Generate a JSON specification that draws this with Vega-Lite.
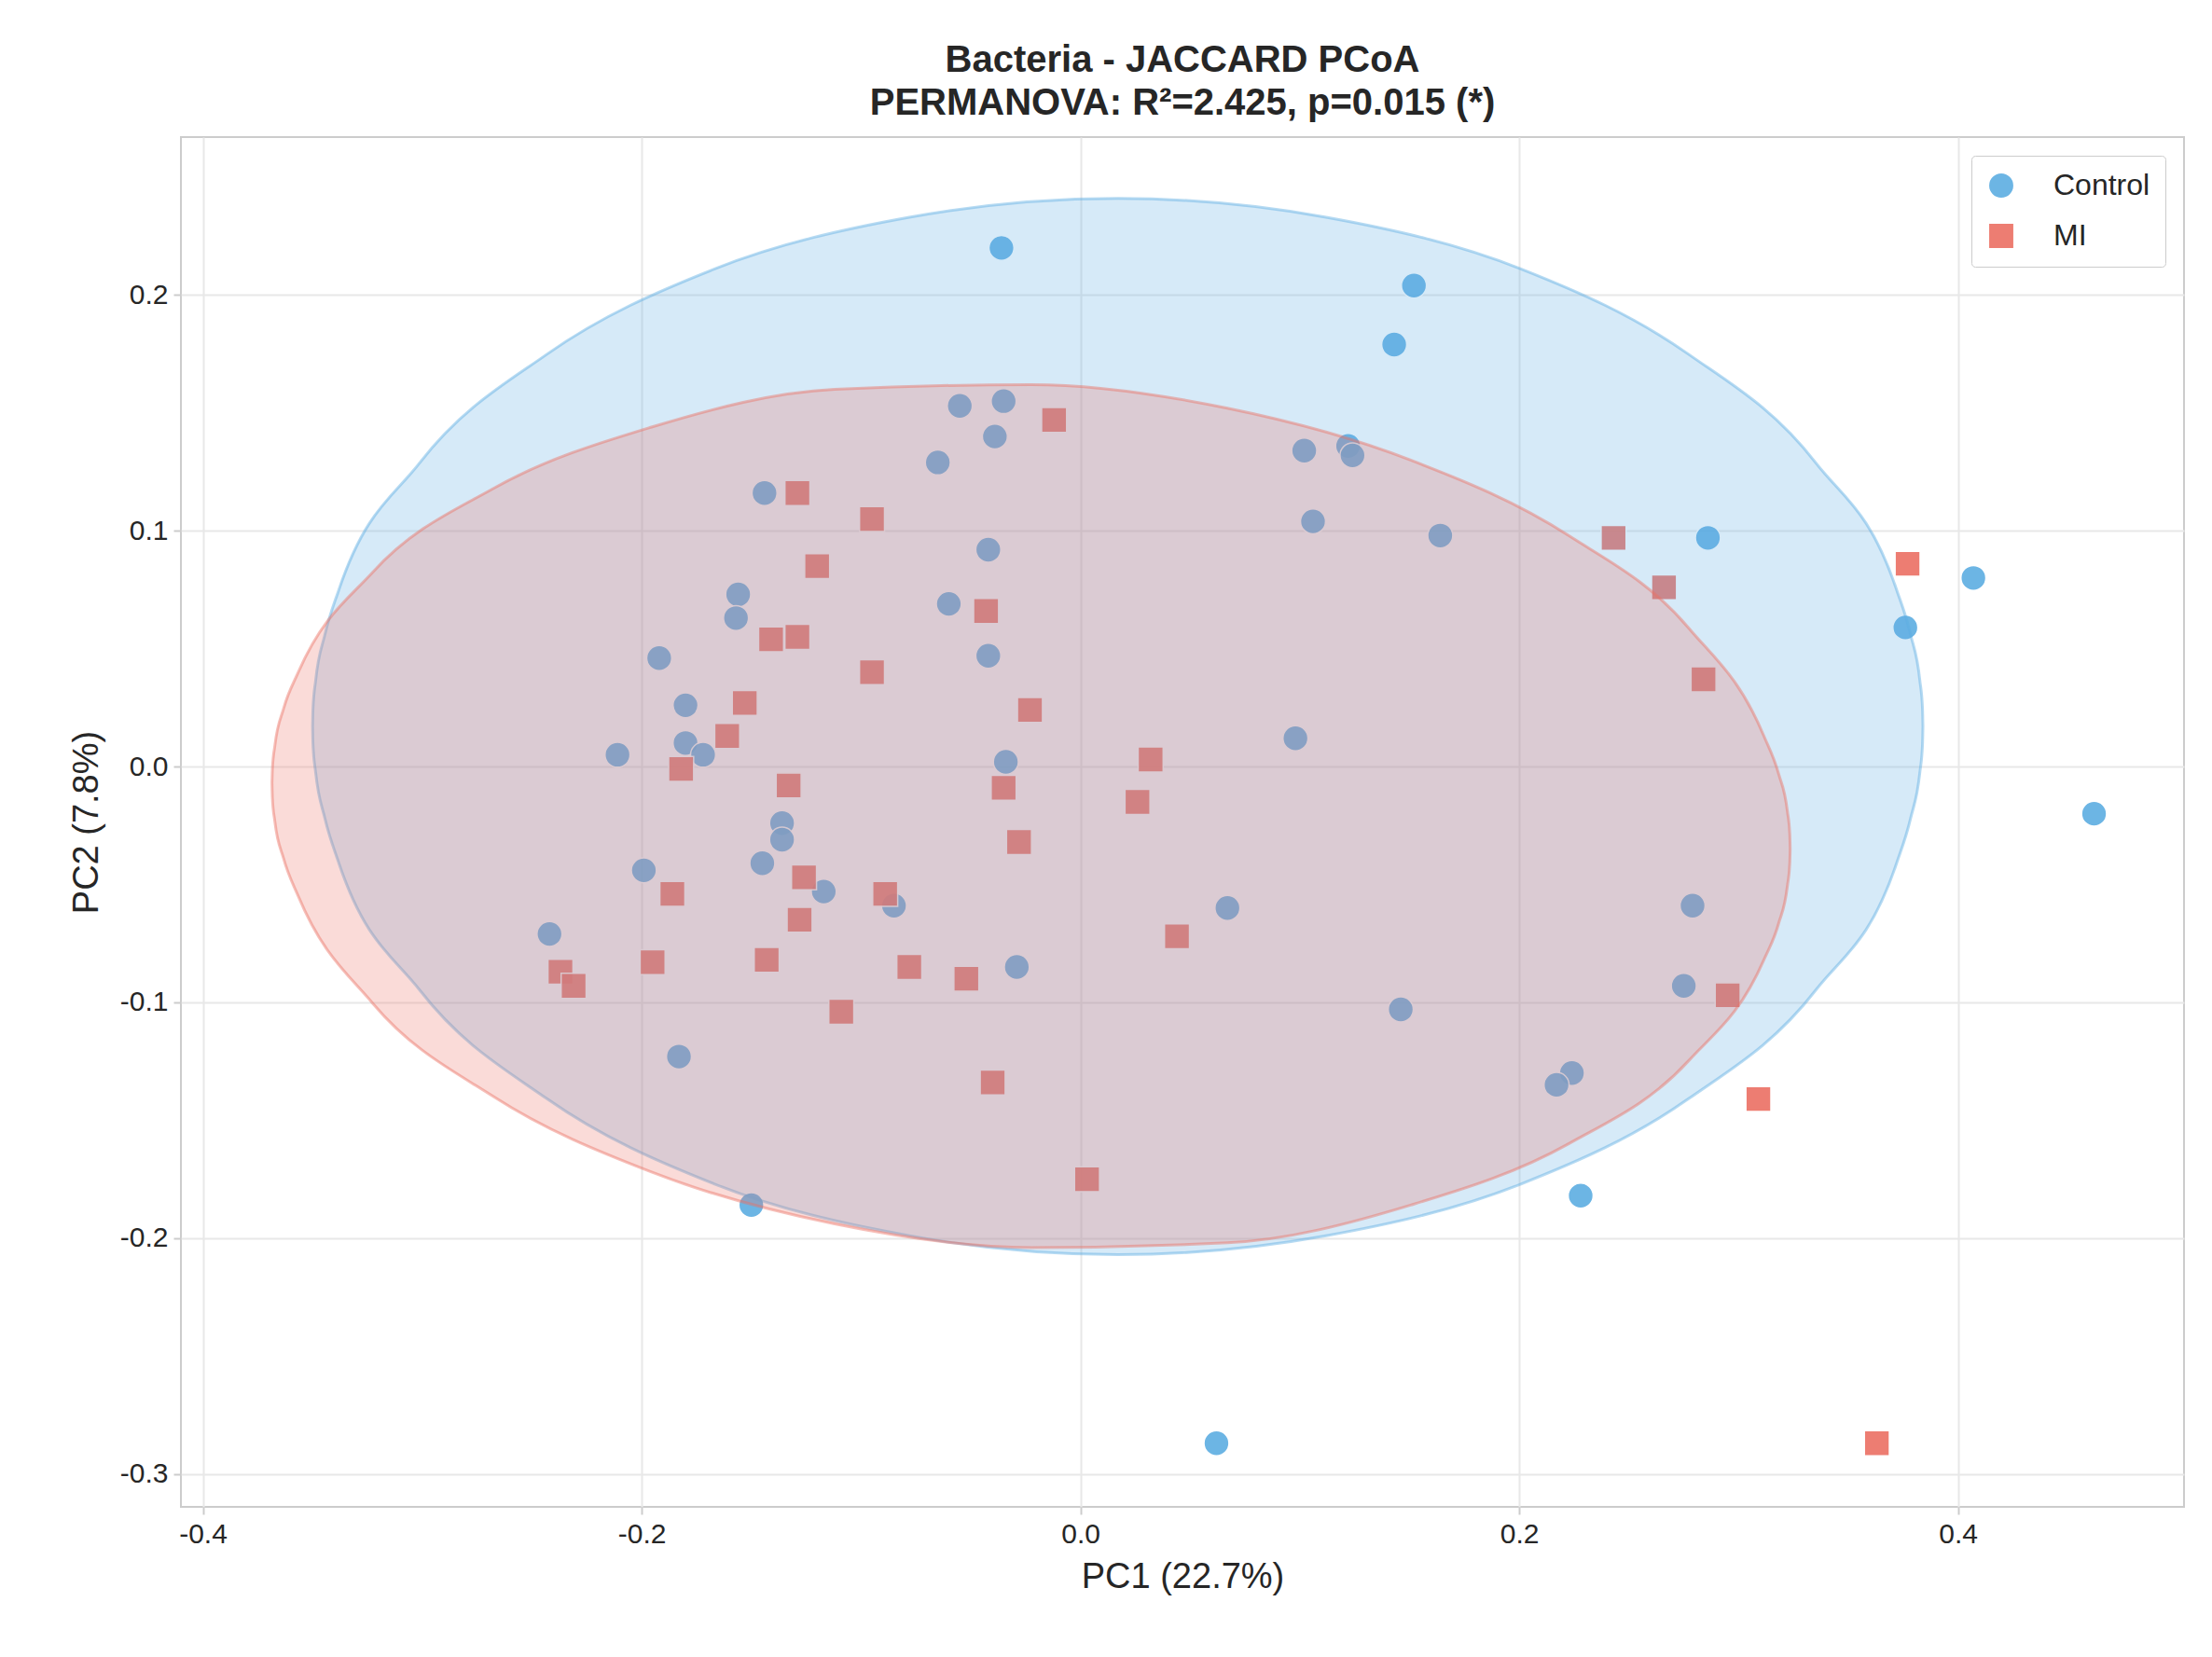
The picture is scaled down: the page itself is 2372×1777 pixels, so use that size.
{
  "$schema": "https://vega.github.io/schema/vega-lite/v6.json",
  "autosize": "none",
  "width": 2148,
  "height": 1469,
  "padding": {"left": 194, "top": 147, "right": 30, "bottom": 161},
  "background": "white",
  "config": {
    "view": {"stroke": "#cccccc", "strokeWidth": 2},
    "font": "Liberation Sans"
  },
  "title": {
    "text": ["Bacteria - JACCARD PCoA", "PERMANOVA: R²=2.425, p=0.015 (*)"],
    "fontSize": 40,
    "fontWeight": "bold",
    "color": "#262626",
    "offset": 16,
    "lineHeight": 46
  },
  "datasets": {
    "pts": [
      {"g":"Control","x":-0.036,"y":0.220},{"g":"Control","x":0.152,"y":0.204},{"g":"Control","x":0.143,"y":0.179},
      {"g":"Control","x":-0.035,"y":0.155},{"g":"Control","x":-0.055,"y":0.153},{"g":"Control","x":-0.039,"y":0.140},
      {"g":"Control","x":-0.065,"y":0.129},{"g":"Control","x":0.102,"y":0.134},{"g":"Control","x":0.122,"y":0.136},
      {"g":"Control","x":0.124,"y":0.132},{"g":"Control","x":-0.144,"y":0.116},{"g":"Control","x":0.106,"y":0.104},
      {"g":"Control","x":0.164,"y":0.098},{"g":"Control","x":0.286,"y":0.097},{"g":"Control","x":0.407,"y":0.080},
      {"g":"Control","x":-0.042,"y":0.092},{"g":"Control","x":-0.156,"y":0.073},{"g":"Control","x":-0.157,"y":0.063},
      {"g":"Control","x":-0.060,"y":0.069},{"g":"Control","x":0.376,"y":0.059},{"g":"Control","x":-0.192,"y":0.046},
      {"g":"Control","x":-0.042,"y":0.047},{"g":"Control","x":-0.180,"y":0.026},{"g":"Control","x":-0.180,"y":0.010},
      {"g":"Control","x":-0.172,"y":0.005},{"g":"Control","x":-0.211,"y":0.005},{"g":"Control","x":0.098,"y":0.012},
      {"g":"Control","x":-0.034,"y":0.002},{"g":"Control","x":0.462,"y":-0.020},{"g":"Control","x":-0.136,"y":-0.024},
      {"g":"Control","x":-0.136,"y":-0.031},{"g":"Control","x":-0.199,"y":-0.044},{"g":"Control","x":-0.145,"y":-0.041},
      {"g":"Control","x":-0.117,"y":-0.053},{"g":"Control","x":-0.085,"y":-0.059},{"g":"Control","x":0.067,"y":-0.060},
      {"g":"Control","x":0.279,"y":-0.059},{"g":"Control","x":-0.242,"y":-0.071},{"g":"Control","x":-0.029,"y":-0.085},
      {"g":"Control","x":0.275,"y":-0.093},{"g":"Control","x":0.146,"y":-0.103},{"g":"Control","x":-0.183,"y":-0.123},
      {"g":"Control","x":0.224,"y":-0.130},{"g":"Control","x":0.217,"y":-0.135},{"g":"Control","x":0.228,"y":-0.182},
      {"g":"Control","x":-0.150,"y":-0.186},{"g":"Control","x":0.062,"y":-0.287},
      {"g":"MI","x":-0.012,"y":0.147},{"g":"MI","x":-0.129,"y":0.116},{"g":"MI","x":-0.095,"y":0.105},
      {"g":"MI","x":-0.120,"y":0.085},{"g":"MI","x":0.243,"y":0.097},{"g":"MI","x":0.266,"y":0.076},
      {"g":"MI","x":0.377,"y":0.086},{"g":"MI","x":-0.043,"y":0.066},{"g":"MI","x":-0.141,"y":0.054},
      {"g":"MI","x":-0.129,"y":0.055},{"g":"MI","x":-0.095,"y":0.040},{"g":"MI","x":0.284,"y":0.037},
      {"g":"MI","x":-0.153,"y":0.027},{"g":"MI","x":-0.023,"y":0.024},{"g":"MI","x":-0.161,"y":0.013},
      {"g":"MI","x":0.032,"y":0.003},{"g":"MI","x":-0.182,"y":-0.001},{"g":"MI","x":-0.133,"y":-0.008},
      {"g":"MI","x":-0.035,"y":-0.009},{"g":"MI","x":0.026,"y":-0.015},{"g":"MI","x":-0.028,"y":-0.032},
      {"g":"MI","x":-0.126,"y":-0.047},{"g":"MI","x":-0.089,"y":-0.054},{"g":"MI","x":-0.186,"y":-0.054},
      {"g":"MI","x":-0.128,"y":-0.065},{"g":"MI","x":0.044,"y":-0.072},{"g":"MI","x":-0.195,"y":-0.083},
      {"g":"MI","x":-0.143,"y":-0.082},{"g":"MI","x":-0.078,"y":-0.085},{"g":"MI","x":-0.052,"y":-0.090},
      {"g":"MI","x":-0.237,"y":-0.087},{"g":"MI","x":-0.231,"y":-0.093},{"g":"MI","x":0.295,"y":-0.097},
      {"g":"MI","x":-0.109,"y":-0.104},{"g":"MI","x":-0.040,"y":-0.134},{"g":"MI","x":0.309,"y":-0.141},
      {"g":"MI","x":0.003,"y":-0.175},{"g":"MI","x":0.363,"y":-0.287}
    ],
    "blueEll": [
      {"x":-0.350,"top":0.017,"bot":0.017},{"x":-0.3498,"top":0.0248,"bot":0.0092},{"x":-0.3486,"top":0.0365,"bot":-0.0025},
      {"x":-0.3444,"top":0.0559,"bot":-0.0219},
      {"x":-0.338,"top":0.075,"bot":-0.041},{"x":-0.301,"top":0.129,"bot":-0.095},
      {"x":-0.243,"top":0.175,"bot":-0.141},{"x":-0.167,"top":0.211,"bot":-0.177},{"x":-0.078,"top":0.233,"bot":-0.199},
      {"x":0.017,"top":0.241,"bot":-0.207},{"x":0.112,"top":0.233,"bot":-0.199},{"x":0.201,"top":0.211,"bot":-0.177},
      {"x":0.277,"top":0.175,"bot":-0.141},{"x":0.335,"top":0.129,"bot":-0.095},{"x":0.372,"top":0.075,"bot":-0.041},
      {"x":0.3784,"top":0.0559,"bot":-0.0219},{"x":0.3826,"top":0.0365,"bot":-0.0025},{"x":0.3838,"top":0.0248,"bot":0.0092},
      {"x":0.384,"top":0.017,"bot":0.017}
    ],
    "redEll": [
      {"x":-0.3685,"top":-0.007,"bot":-0.007},{"x":-0.3683,"top":-0.0008,"bot":-0.0136},{"x":-0.3672,"top":0.0088,"bot":-0.0232},
      {"x":-0.3632,"top":0.0246,"bot":-0.039},
      {"x":-0.3565,"top":0.040,"bot":-0.055},{"x":-0.3225,"top":0.0825,"bot":-0.1005},
      {"x":-0.2675,"top":0.118,"bot":-0.140},{"x":-0.1955,"top":0.144,"bot":-0.172},{"x":-0.112,"top":0.160,"bot":-0.194},
      {"x":-0.0225,"top":0.162,"bot":-0.204},{"x":0.067,"top":0.152,"bot":-0.202},{"x":0.1505,"top":0.130,"bot":-0.186},
      {"x":0.2225,"top":0.098,"bot":-0.160},{"x":0.2775,"top":0.0585,"bot":-0.1245},{"x":0.3115,"top":0.013,"bot":-0.082},
      {"x":0.3182,"top":-0.003,"bot":-0.0666},{"x":0.3222,"top":-0.0188,"bot":-0.0508},{"x":0.3233,"top":-0.0284,"bot":-0.0412},
      {"x":0.3235,"top":-0.035,"bot":-0.035}
    ]
  },
  "layer": [
    {
      "data": {"name": "pts"},
      "mark": {"type": "point", "filled": true, "opacity": 0.9, "stroke": "white", "strokeWidth": 1.5, "strokeOpacity": 1},
      "encoding": {
        "x": {
          "field": "x", "type": "quantitative",
          "scale": {"domain": [-0.41, 0.503], "nice": false, "zero": false},
          "axis": {
            "title": "PC1 (22.7%)", "titleFontSize": 38, "titleFontWeight": "normal", "titleColor": "#262626", "titlePadding": 12,
            "values": [-0.4, -0.2, 0, 0.2, 0.4],
            "labelExpr": "replace(format(datum.value, '.1f'), '−', '-')",
            "labelFontSize": 30, "labelColor": "#262626", "domain": false,
            "gridColor": "#e8e8e8", "gridWidth": 2, "tickColor": "#cccccc", "tickSize": 8, "tickWidth": 2, "labelPadding": 6
          }
        },
        "y": {
          "field": "y", "type": "quantitative",
          "scale": {"domain": [-0.314, 0.267], "nice": false, "zero": false},
          "axis": {
            "title": "PC2 (7.8%)", "titleFontSize": 38, "titleFontWeight": "normal", "titleColor": "#262626", "titlePadding": 16,
            "values": [-0.3, -0.2, -0.1, 0, 0.1, 0.2],
            "labelExpr": "replace(format(datum.value, '.1f'), '−', '-')",
            "labelFontSize": 30, "labelColor": "#262626", "domain": false,
            "gridColor": "#e8e8e8", "gridWidth": 2, "tickColor": "#cccccc", "tickSize": 8, "tickWidth": 2, "labelPadding": 6
          }
        },
        "color": {
          "field": "g", "type": "nominal",
          "scale": {"domain": ["Control", "MI"], "range": ["#5DADE2", "#EC7063"]},
          "legend": {
            "title": null, "orient": "top-right", "offset": 20,
            "labelFontSize": 32, "labelColor": "#262626", "symbolSize": 750,
            "fillColor": "white", "strokeColor": "#cccccc", "padding": 16, "rowPadding": 20, "labelOffset": 40,
            "cornerRadius": 4, "symbolStrokeColor": "white"
          }
        },
        "shape": {
          "field": "g", "type": "nominal",
          "scale": {"domain": ["Control", "MI"], "range": ["circle", "square"]},
          "legend": null
        },
        "size": {"value": 720}
      }
    },
    {
      "data": {"name": "blueEll"},
      "mark": {"type": "area", "interpolate": "monotone", "fill": "#5DADE2", "fillOpacity": 0.25, "stroke": "#5DADE2", "strokeOpacity": 0.45, "strokeWidth": 3},
      "encoding": {
        "x": {"field": "x", "type": "quantitative"},
        "y": {"field": "top", "type": "quantitative"},
        "y2": {"field": "bot"}
      }
    },
    {
      "data": {"name": "redEll"},
      "mark": {"type": "area", "interpolate": "monotone", "fill": "#EC7063", "fillOpacity": 0.25, "stroke": "#EC7063", "strokeOpacity": 0.45, "strokeWidth": 3},
      "encoding": {
        "x": {"field": "x", "type": "quantitative"},
        "y": {"field": "top", "type": "quantitative"},
        "y2": {"field": "bot"}
      }
    }
  ]
}
